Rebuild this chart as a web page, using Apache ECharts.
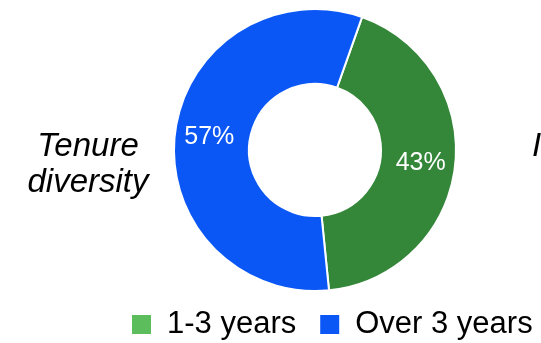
<!DOCTYPE html>
<html>
<head>
<meta charset="utf-8">
<script src="https://cdn.jsdelivr.net/npm/echarts@6/dist/echarts.min.js"></script>
<style>
html,body{margin:0;padding:0;background:#fff;}
#chart{width:541px;height:343px;}
</style>
</head>
<body>
<div id="chart"></div>
<script>
const categories = ['1-3 years', 'Over 3 years'];
const values = [43, 57];
const sliceColors = ['#348639', '#0a57f6'];
const legendColors = ['#5cbd5c', '#0a57f6'];
const titleText = 'Tenure\ndiversity';

const chart = echarts.init(document.getElementById('chart'), null, {renderer: 'canvas'});
const FONT = '"Liberation Sans", Arial, sans-serif';

chart.setOption({
  animation: false,
  backgroundColor: '#ffffff',
  legend: {
    left: 130,
    top: 309,
    padding: 0,
    itemWidth: 21,
    itemHeight: 21,
    itemGap: 22,
    icon: 'rect',
    textStyle: { fontFamily: FONT, fontSize: 31, color: '#000', padding: [0, 0, 0, 10] },
    data: categories.map((c, i) => ({ name: c, itemStyle: { color: legendColors[i] } }))
  },
  graphic: [
    {
      type: 'text',
      x: 88, y: 129,
      style: {
        text: titleText, fill: '#000', fontFamily: FONT, fontStyle: 'italic',
        fontSize: 33, align: 'center', lineHeight: 36
      }
    },
    {
      type: 'text',
      x: 532, y: 129,
      style: { text: 'I', fill: '#000', fontFamily: FONT, fontStyle: 'italic', fontSize: 33, lineHeight: 36 }
    }
  ],
  series: [{
    type: 'pie',
    center: [315, 150],
    radius: [66, 141],
    startAngle: 70.5,
    clockwise: true,
    itemStyle: { borderColor: '#fff', borderWidth: 2 },
    label: {
      show: true, position: 'inside', formatter: '{c}%',
      color: '#fff', fontFamily: FONT, fontSize: 25
    },
    labelLine: { show: false },
    emphasis: { disabled: true },
    data: categories.map((c, i) => ({ name: c, value: values[i], itemStyle: { color: sliceColors[i] } }))
  }]
});
</script>
</body>
</html>
